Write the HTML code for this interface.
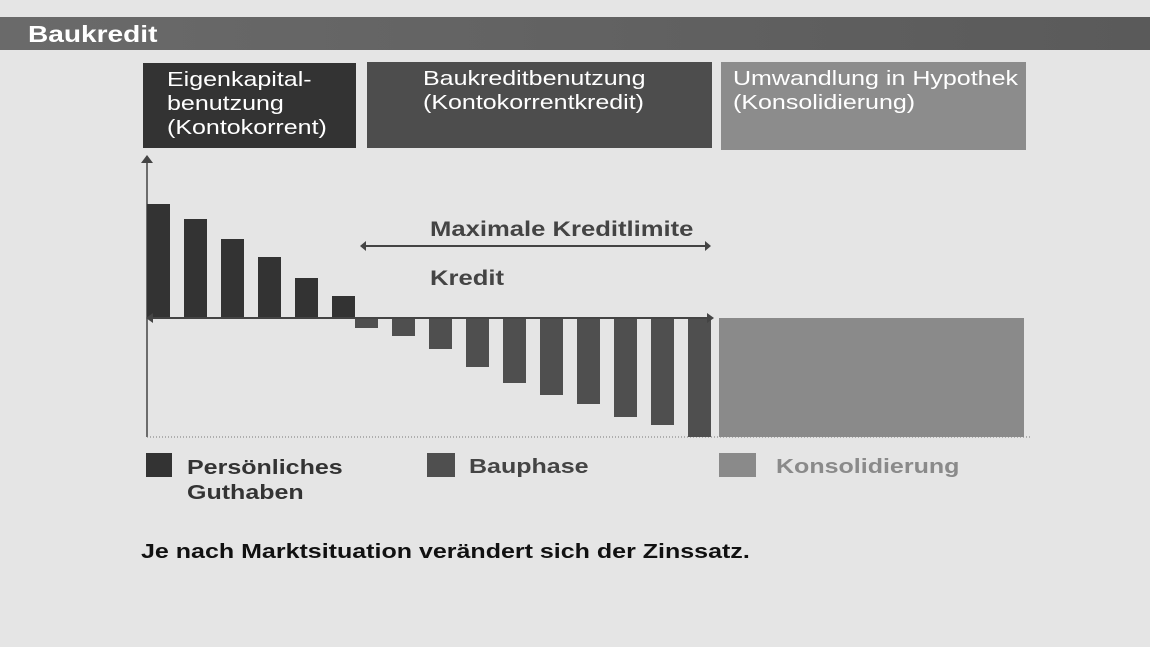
<!DOCTYPE html><html><head><style>
body{margin:0;width:1150px;height:647px;background:#e5e5e5;font-family:"Liberation Sans",sans-serif;position:relative;overflow:hidden}
.a{position:absolute}
.s{display:inline-block;transform:scaleX(1.22);transform-origin:0 0;white-space:nowrap}
.h{color:#fff;font-size:20.5px;line-height:24px;padding:5px 0 0 24px;box-sizing:border-box}
.b{font-weight:bold;font-size:20.5px}
</style></head><body>
<div class="a" style="left:0;top:17px;width:1150px;height:33px;background:linear-gradient(90deg,#6a6a6a,#5a5a5a)"></div>
<div class="a" style="left:28px;top:19px;color:#fff;font-weight:bold;font-size:23px;line-height:30px"><span class="s">Baukredit</span></div>
<div class="a h" style="left:143px;top:63px;width:213px;height:85px;background:#333"><span class="s">Eigenkapital-<br>benutzung<br>(Kontokorrent)</span></div>
<div class="a h" style="left:367px;top:62px;width:345px;height:86px;background:#4d4d4d;padding-left:56px"><span class="s">Baukreditbenutzung<br>(Kontokorrentkredit)</span></div>
<div class="a h" style="left:721px;top:62px;width:305px;height:88px;background:#8c8c8c;padding-left:12px"><span class="s">Umwandlung in Hypothek<br>(Konsolidierung)</span></div>
<svg class="a" style="left:0;top:0" width="1150" height="647">
<line x1="147" y1="160" x2="147" y2="437" stroke="#444" stroke-width="1.5"/>
<polygon points="141,163 147,155 153,163" fill="#444"/>
<line x1="147" y1="437" x2="1030" y2="437" stroke="#777" stroke-dasharray="1,2"/>
<g fill="#333">
<rect x="147" y="204" width="23" height="114"/><rect x="184" y="219" width="23" height="99"/><rect x="221" y="239" width="23" height="79"/><rect x="258" y="257" width="23" height="61"/><rect x="295" y="278" width="23" height="40"/><rect x="332" y="296" width="23" height="22"/>
</g>
<g fill="#4f4f4f">
<rect x="355" y="318" width="23" height="10"/><rect x="392" y="318" width="23" height="18"/><rect x="429" y="318" width="23" height="31"/><rect x="466" y="318" width="23" height="49"/><rect x="503" y="318" width="23" height="65"/><rect x="540" y="318" width="23" height="77"/><rect x="577" y="318" width="23" height="86"/><rect x="614" y="318" width="23" height="99"/><rect x="651" y="318" width="23" height="107"/><rect x="688" y="318" width="23" height="119"/>
</g>
<rect x="719" y="318" width="305" height="119" fill="#8a8a8a"/>
<line x1="150" y1="318" x2="710" y2="318" stroke="#444" stroke-width="2"/>
<polygon points="146,318 153,313 153,323" fill="#444"/><polygon points="714,318 707,313 707,323" fill="#444"/>
<line x1="363" y1="246" x2="708" y2="246" stroke="#444" stroke-width="2"/>
<polygon points="360,246 366,241 366,251" fill="#444"/><polygon points="711,246 705,241 705,251" fill="#444"/>
<rect x="146" y="453" width="26" height="24" fill="#333"/>
<rect x="427" y="453" width="28" height="24" fill="#4f4f4f"/>
<rect x="719" y="453" width="37" height="24" fill="#8a8a8a"/>
</svg>
<div class="a b" style="left:430px;top:218px;color:#444;font-size:21px"><span class="s">Maximale Kreditlimite</span></div>
<div class="a b" style="left:430px;top:267px;color:#444;font-size:21px"><span class="s">Kredit</span></div>
<div class="a b" style="left:187px;top:455px;color:#333;line-height:25px"><span class="s">Persönliches<br>Guthaben</span></div>
<div class="a b" style="left:469px;top:455px;color:#444"><span class="s">Bauphase</span></div>
<div class="a b" style="left:776px;top:455px;color:#8a8a8a"><span class="s">Konsolidierung</span></div>
<div class="a b" style="left:141px;top:540px;color:#111"><span class="s">Je nach Marktsituation verändert sich der Zinssatz.</span></div>
</body></html>
